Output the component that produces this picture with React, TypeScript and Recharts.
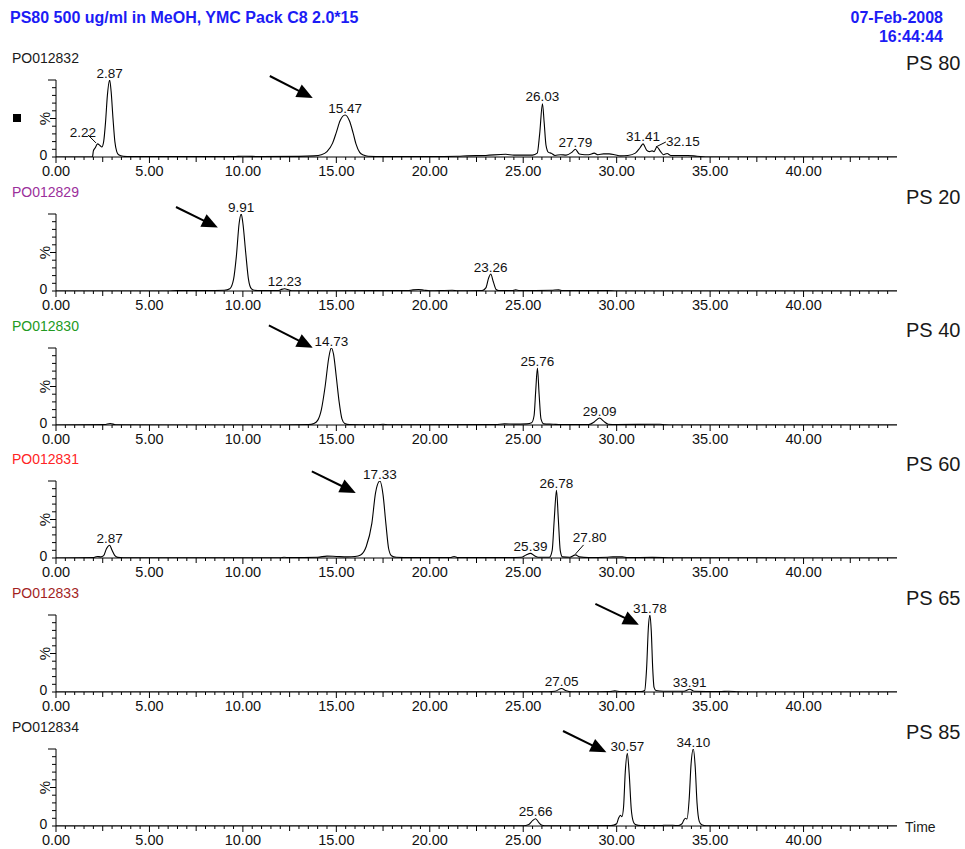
import React from 'react'
import { LineChart, Line, XAxis, YAxis, ReferenceDot, ReferenceLine } from 'recharts'

const FONT = '"Liberation Sans", Arial, Helvetica, sans-serif'

const title = 'PS80 500 ug/ml in MeOH, YMC Pack C8 2.0*15'
const runDate = '07-Feb-2008'
const runTime = '16:44:44'

const sampleIds = ['PO012832', 'PO012829', 'PO012830', 'PO012831', 'PO012833', 'PO012834']
const sampleNames = ['PS 80', 'PS 20', 'PS 40', 'PS 60', 'PS 65', 'PS 85']
const sampleColors = ['#1a1a1a', '#9b2f9b', '#229a22', '#ff2424', '#a31f1f', '#1a1a1a']

const timeTickLabels = ['0.00', '5.00', '10.00', '15.00', '20.00', '25.00', '30.00', '35.00', '40.00']
const timeTicks = Array.from({ length: 90 }, (_, i) => i * 0.5)
const pctTicks = [0, 10, 20, 30, 40, 50, 60, 70, 80, 90, 100]

// traces: [retention time (min), intensity (%)]
const tracePS80 = [
  [0, 0], [1.95, 0], [2.0, 8], [2.1, 12], [2.22, 17], [2.35, 15], [2.45, 13], [2.55, 20],
  [2.65, 45], [2.75, 80], [2.87, 100], [2.95, 85], [3.05, 50], [3.15, 20], [3.25, 7], [3.35, 3],
  [3.6, 1], [4, 0.5], [6, 0.5], [9.5, 0.5], [10, 1], [11, 0.5], [13, 0.8], [13.8, 1.5],
  [14.2, 3], [14.5, 7], [14.8, 18], [15.0, 32], [15.2, 47], [15.47, 54.5], [15.7, 47], [15.9, 31],
  [16.05, 17], [16.25, 6], [16.45, 2.5], [16.7, 1], [17.5, 0.5], [20, 0.5], [21.5, 1], [22, 1.5],
  [23, 2], [24.06, 3.5], [24.5, 2.5], [25.5, 2.5], [25.75, 5], [25.88, 30], [26.03, 69], [26.12, 45],
  [26.22, 15], [26.35, 6], [26.5, 5], [26.7, 2], [27.0, 3], [27.3, 2.5], [27.6, 6], [27.79, 10],
  [28.0, 4], [28.3, 3], [28.5, 3], [28.8, 5], [29.0, 3], [29.3, 4], [29.6, 4], [29.9, 3],
  [30.2, 1.5], [30.6, 2], [31.0, 5], [31.25, 12], [31.41, 17], [31.6, 9], [31.75, 7], [31.9, 8],
  [32.0, 7], [32.15, 13], [32.35, 7], [32.5, 3], [32.7, 4.5], [32.9, 2], [33.3, 2], [33.8, 2],
  [34.3, 1], [35, 0], [45, 0],
]
const tracePS20 = [
  [0, 0], [6, 0], [6.5, 0.5], [8, 0.5], [9.0, 1], [9.3, 3], [9.5, 15], [9.65, 45],
  [9.8, 88], [9.91, 100], [10.0, 88], [10.15, 50], [10.3, 15], [10.45, 3], [10.6, 1], [11, 0.5],
  [11.9, 0.5], [12.05, 2], [12.23, 3], [12.45, 1.5], [12.6, 0.3], [15, 0.3], [17, 0.5], [18.8, 0.5],
  [19.1, 1.5], [19.4, 2], [19.7, 1], [20, 0.3], [21.2, 1], [21.5, 0.3], [22.8, 0.5], [23.0, 4],
  [23.15, 17], [23.26, 22], [23.4, 12], [23.55, 2], [23.7, 0.5], [24.4, 0.5], [24.6, 1.5], [24.8, 0.5],
  [26.5, 1], [26.9, 1.5], [27.1, 0.5], [29.5, 0.5], [30, 0], [45, 0],
]
const tracePS40 = [
  [0, 0], [2.6, 0.5], [2.9, 2], [3.2, 0.3], [6, 0], [12, 0], [13.5, 0.5], [13.8, 2],
  [14.0, 6], [14.2, 20], [14.4, 50], [14.6, 88], [14.73, 100], [14.85, 92], [15.0, 62], [15.15, 30],
  [15.3, 8], [15.45, 2], [15.7, 0.5], [17.2, 0.3], [17.5, 1], [17.8, 0.3], [23.5, 0.5], [24.0, 1.5],
  [24.5, 1.2], [25.2, 1.5], [25.45, 3], [25.58, 12], [25.67, 45], [25.76, 74], [25.85, 40], [25.95, 8],
  [26.1, 1.5], [26.6, 1], [27, 0.5], [28.5, 0.5], [28.8, 4], [29.09, 9], [29.3, 5], [29.55, 1],
  [30, 0.5], [32.3, 1], [32.6, 0.3], [33, 0], [45, 0],
]
const tracePS60 = [
  [0, 0], [2.0, 0.5], [2.2, 2], [2.4, 1.5], [2.55, 3], [2.7, 12], [2.87, 16.5], [3.0, 10],
  [3.15, 3], [3.3, 0.8], [3.6, 0.3], [12, 0.3], [12.2, 1], [12.5, 0.5], [14.0, 1], [14.5, 2.5],
  [15.0, 2], [15.6, 1.5], [16.0, 2], [16.3, 4], [16.6, 15], [16.9, 45], [17.1, 85], [17.33, 100],
  [17.5, 82], [17.65, 45], [17.8, 12], [17.95, 3], [18.2, 1], [19, 0.5], [21.1, 0.5], [21.3, 2],
  [21.5, 0.5], [24, 0.5], [24.9, 1], [25.15, 4], [25.39, 6], [25.6, 3], [25.8, 1], [26.4, 1],
  [26.55, 10], [26.66, 50], [26.78, 88], [26.88, 50], [26.98, 10], [27.1, 1.5], [27.5, 1], [27.8, 4],
  [28.0, 1.5], [28.5, 0.5], [29.5, 1], [29.8, 1.5], [30.3, 1.5], [30.6, 0.5], [31.9, 0.8], [33, 0.3],
  [45, 0],
]
const tracePS65 = [
  [0, 0], [26.0, 0.3], [26.7, 1], [27.05, 4.5], [27.3, 1.5], [27.6, 0.3], [29.6, 0.5], [29.9, 1.5],
  [30.2, 0.5], [31.3, 0.5], [31.5, 2], [31.6, 30], [31.7, 85], [31.78, 100], [31.85, 80], [31.93, 30],
  [32.0, 6], [32.1, 2], [32.5, 1], [33.6, 1], [33.91, 3.5], [34.15, 1], [35.5, 0.5], [36, 1],
  [36.5, 0.3], [37, 0], [45, 0],
]
const tracePS85 = [
  [0, 0], [25.0, 0.3], [25.3, 2], [25.5, 7], [25.66, 9.5], [25.85, 4], [26.0, 1], [26.3, 0.3],
  [29.7, 0.5], [30.0, 3], [30.1, 10], [30.2, 14], [30.28, 12], [30.37, 25], [30.46, 70], [30.57, 94.5],
  [30.67, 68], [30.78, 22], [30.9, 5], [31.0, 2], [31.3, 0.5], [32.4, 0.5], [32.5, 1], [33.0, 1],
  [33.3, 0.5], [33.5, 3], [33.6, 8], [33.68, 10], [33.76, 9], [33.88, 35], [33.98, 80], [34.1, 100],
  [34.2, 78], [34.3, 30], [34.42, 6], [34.55, 1.5], [34.8, 0.3], [45, 0],
]

// labelled peaks: [retention time, label]
const peaksPS80 = [[2.22, '2.22'], [2.87, '2.87'], [15.47, '15.47'], [26.03, '26.03'], [27.79, '27.79'], [31.41, '31.41'], [32.15, '32.15']]
const peaksPS20 = [[9.91, '9.91'], [12.23, '12.23'], [23.26, '23.26']]
const peaksPS40 = [[14.73, '14.73'], [25.76, '25.76'], [29.09, '29.09']]
const peaksPS60 = [[2.87, '2.87'], [17.33, '17.33'], [25.39, '25.39'], [26.78, '26.78'], [27.8, '27.80']]
const peaksPS65 = [[27.05, '27.05'], [31.78, '31.78'], [33.91, '33.91']]
const peaksPS85 = [[25.66, '25.66'], [30.57, '30.57'], [34.1, '34.10']]

// arrow annotations: [tail, head] as [time, %]
const arrowPS80 = [[11.44, 105.2], [13.74, 76.6]]
const arrowPS20 = [[6.42, 109.1], [8.66, 82.5]]
const arrowPS40 = [[11.39, 129.4], [13.74, 100.4]]
const arrowPS60 = [[13.69, 112.6], [16.04, 84.5]]
const arrowPS65 = [[28.86, 114.5], [31.19, 87.3]]
const arrowPS85 = [[27.13, 123.4], [29.45, 95.7]]

// labels drawn off to the side with a short leader line
const leaders: Record<string, { tx: number; ty: number; lx1: number; ly1: number; lx2: number; ly2: number }> = {
  '2.22': { tx: -14.5, ty: -7, lx1: -9.5, ly1: -9, lx2: -1.5, ly2: -1 },
  '32.15': { tx: 26, ty: -1, lx1: -1, ly1: 0, lx2: 9, ly2: -5 },
  '27.80': { tx: 14, ty: -12.8, lx1: 0, ly1: -1, lx2: 8, ly2: -10 },
}

const traces = [tracePS80, tracePS20, tracePS40, tracePS60, tracePS65, tracePS85]
const peaks = [peaksPS80, peaksPS20, peaksPS40, peaksPS60, peaksPS65, peaksPS85]
const arrows = [arrowPS80, arrowPS20, arrowPS40, arrowPS60, arrowPS65, arrowPS85]

const W = 965
const PLOT_LEFT = 56
const PLOT_RIGHT = 897
const PLOT_H = 77
const TOP0 = 80
const STEP = 133.8
const M_TOP = 30
const X_H = 30

function TimeTick(props: any) {
  const { x, y, payload } = props
  const v = payload.value
  const major = Math.abs(v % 5) < 1e-6
  const mid = !major && Math.abs(v % 2.5) < 1e-6
  const len = major ? 6 : mid ? 5 : 3
  const lab = major ? timeTickLabels[Math.round(v / 5)] : undefined
  return (
    <g>
      <line x1={x} y1={y} x2={x} y2={y + len} stroke="#000" />
      {lab && (
        <text x={x} y={y + 18.6} textAnchor="middle" fontSize={14.5} fill="#111" fontFamily={FONT}>
          {lab}
        </text>
      )}
    </g>
  )
}

function PctTick(props: any) {
  const { x, y, payload } = props
  const v = payload.value
  const len = v === 100 ? 8 : v === 50 ? 6 : 4
  return (
    <g>
      <line x1={x - len} y1={y} x2={x} y2={y} stroke="#000" />
      {v === 0 && (
        <text x={x - 12.5} y={y + 2.5} textAnchor="middle" fontSize={14} fill="#111" fontFamily={FONT}>0</text>
      )}
      {v === 50 && (
        <text
          transform={`translate(${x - 12},${y}) rotate(-90)`}
          textAnchor="middle"
          dominantBaseline="central"
          fontSize={15}
          fill="#111"
          fontFamily={FONT}
        >
          %
        </text>
      )}
    </g>
  )
}

function arrowShape(p: any) {
  const { x1, y1, x2, y2 } = p
  const dx = x2 - x1
  const dy = y2 - y1
  const L = Math.hypot(dx, dy) || 1
  const ux = dx / L
  const uy = dy / L
  const hl = 16
  const hw = 7
  const bx = x2 - ux * hl
  const by = y2 - uy * hl
  return (
    <g>
      <line x1={x1} y1={y1} x2={bx + ux * 2} y2={by + uy * 2} stroke="#000" strokeWidth={2} />
      <polygon
        points={`${x2},${y2} ${bx - uy * hw},${by + ux * hw} ${bx + uy * hw},${by - ux * hw}`}
        fill="#000"
      />
    </g>
  )
}

function peakLabel(text: string) {
  return (p: any) => {
    const { cx, cy } = p
    const ld = leaders[text]
    if (ld) {
      return (
        <g>
          <line x1={cx + ld.lx1} y1={cy + ld.ly1} x2={cx + ld.lx2} y2={cy + ld.ly2} stroke="#000" />
          <text x={cx + ld.tx} y={cy + ld.ty} textAnchor="middle" fontSize={13.5} fill="#111" fontFamily={FONT}>
            {text}
          </text>
        </g>
      )
    }
    return (
      <text x={cx} y={cy - 2.5} textAnchor="middle" fontSize={13.5} fill="#111" fontFamily={FONT}>
        {text}
      </text>
    )
  }
}

function Panel({ index }: { index: number }) {
  const data = traces[index].map(([t, v]) => ({ t, v }))
  const axisTop = TOP0 + index * STEP
  const arrow = arrows[index]
  return (
    <div style={{ position: 'absolute', left: 0, top: axisTop - M_TOP }}>
      <LineChart
        width={W}
        height={M_TOP + PLOT_H + X_H}
        data={data}
        margin={{ top: M_TOP, right: W - PLOT_RIGHT, bottom: 0, left: 6 }}
      >
        <XAxis
          dataKey="t"
          type="number"
          domain={[0, 45]}
          allowDataOverflow
          ticks={timeTicks}
          interval={0}
          tickSize={0}
          tickMargin={0}
          tickLine={false}
          tick={<TimeTick />}
          height={X_H}
          axisLine={{ stroke: '#000' }}
        />
        <YAxis
          type="number"
          domain={[0, 100]}
          allowDataOverflow
          ticks={pctTicks}
          interval={0}
          tickSize={0}
          tickMargin={0}
          tickLine={false}
          tick={<PctTick />}
          width={PLOT_LEFT - 6}
          axisLine={{ stroke: '#000' }}
        />
        <Line
          type="monotone"
          dataKey="v"
          stroke="#000"
          strokeWidth={1.1}
          dot={false}
          activeDot={false}
          isAnimationActive={false}
        />
        {peaks[index].map(([t, text]) => {
          const pt = data.find((d) => d.t === t)
          return (
            <ReferenceDot
              key={String(text)}
              x={t as number}
              y={pt ? pt.v : 0}
              r={3}
              ifOverflow="visible"
              shape={peakLabel(String(text))}
            />
          )
        })}
        <ReferenceLine
          segment={[
            { x: arrow[0][0], y: arrow[0][1] },
            { x: arrow[1][0], y: arrow[1][1] },
          ]}
          ifOverflow="visible"
          shape={arrowShape}
        />
      </LineChart>
    </div>
  )
}

export default function App() {
  return (
    <div style={{ position: 'absolute', left: 0, top: 0, width: W, height: 849, background: '#fff', fontFamily: FONT }}>
      {sampleIds.map((_, i) => (
        <Panel key={i} index={i} />
      ))}
      <svg width={W} height={849} style={{ position: 'absolute', left: 0, top: 0, pointerEvents: 'none' }}>
        <text x={10} y={23.2} fontSize={16} fontWeight="bold" fill="#1c1cf5" fontFamily={FONT}>{title}</text>
        <text x={943} y={23.2} fontSize={16} fontWeight="bold" fill="#1c1cf5" fontFamily={FONT} textAnchor="end">{runDate}</text>
        <text x={943} y={41.7} fontSize={16} fontWeight="bold" fill="#1c1cf5" fontFamily={FONT} textAnchor="end">{runTime}</text>
        {sampleIds.map((id, i) => (
          <text key={id} x={12} y={63 + i * STEP} fontSize={14} fill={sampleColors[i]} fontFamily={FONT}>{id}</text>
        ))}
        {sampleNames.map((n, i) => (
          <text key={n} x={906} y={69.7 + i * STEP} fontSize={20} fill="#1a1a1a" fontFamily={FONT}>{n}</text>
        ))}
        <text x={905} y={831.5} fontSize={14} fill="#1a1a1a" fontFamily={FONT}>Time</text>
        <rect x={13} y={114} width={8} height={8} fill="#000" />
      </svg>
    </div>
  )
}
